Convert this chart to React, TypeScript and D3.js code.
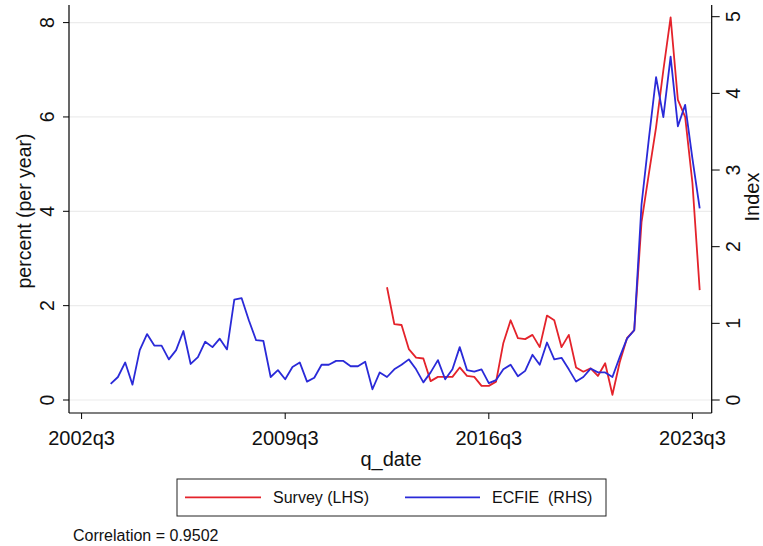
import React from "react";
import * as d3 from "d3";

// Quarter index 0 = 2002q3
const START_YEAR = 2002;
const START_QUARTER = 3;

const xTickIndex = [0, 28, 56, 84];
const xTickLabels = ["2002q3", "2009q3", "2016q3", "2023q3"];
const leftTicks = [0, 2, 4, 6, 8];
const rightTicks = [0, 1, 2, 3, 4, 5];

// ECFIE index (right axis), 2003q3 .. 2023q4
const ecfieStart = 4;
const ecfieValues = [
  0.21, 0.30, 0.49, 0.20, 0.65, 0.86, 0.71, 0.71, 0.53, 0.65,
  0.90, 0.47, 0.56, 0.76, 0.69, 0.80, 0.66, 1.31, 1.33, 1.04,
  0.78, 0.77, 0.30, 0.39, 0.27, 0.43, 0.49, 0.24, 0.29, 0.46,
  0.46, 0.51, 0.51, 0.44, 0.44, 0.50, 0.14, 0.36, 0.30, 0.40,
  0.46, 0.53, 0.40, 0.23, 0.36, 0.52, 0.27, 0.40, 0.69, 0.39,
  0.37, 0.40, 0.22, 0.26, 0.40, 0.46, 0.31, 0.38, 0.59, 0.46,
  0.75, 0.53, 0.55, 0.40, 0.24, 0.30, 0.41, 0.36, 0.36, 0.30,
  0.56, 0.80, 0.91, 2.55, 3.40, 4.21, 3.69, 4.48, 3.57, 3.85, 3.15, 2.50,
];

// Survey expectations, percent per year (left axis), 2013q1 .. 2023q4
const surveyStart = 42;
const surveyValues = [
  2.39, 1.61, 1.59, 1.08, 0.90, 0.88, 0.40, 0.49, 0.49, 0.49,
  0.69, 0.51, 0.49, 0.30, 0.30, 0.39, 1.21, 1.69, 1.31, 1.29,
  1.38, 1.12, 1.79, 1.69, 1.12, 1.38, 0.69, 0.60, 0.67, 0.51,
  0.78, 0.11, 0.80, 1.31, 1.48, 3.77, 4.79, 5.78, 6.99, 8.11, 6.36, 6.00, 4.60, 2.33,
];

const correlationText = "Correlation = 0.9502";

const W = 763;
const H = 546;
const FONT = "'Liberation Sans', Arial, Helvetica, sans-serif";
const RED = "#e4232b";
const BLUE = "#2a2ad8";

const quarterLabel = (i: number) => {
  const q0 = START_QUARTER - 1 + i;
  return `${START_YEAR + Math.floor(q0 / 4)}q${(q0 % 4) + 1}`;
};

type Pt = { i: number; label: string; v: number };

export default function App() {
  const left = 69;
  const right = 711.7;
  const top = 5;
  const bottom = 413;

  const x = d3.scaleLinear().domain([-1.73, 86.65]).range([left, right]);
  const yL = d3.scaleLinear().domain([0, 8]).range([400, 22.6]);
  const yR = d3.scaleLinear().domain([0, 5]).range([400, 16.7]);

  const ecfie: Pt[] = ecfieValues.map((v, k) => ({ i: ecfieStart + k, label: quarterLabel(ecfieStart + k), v }));
  const survey: Pt[] = surveyValues.map((v, k) => ({ i: surveyStart + k, label: quarterLabel(surveyStart + k), v }));

  const lineL = d3.line<Pt>().x((d) => x(d.i)).y((d) => yL(d.v));
  const lineR = d3.line<Pt>().x((d) => x(d.i)).y((d) => yR(d.v));

  const legend = { x0: 177, x1: 606, y0: 479, y1: 516 };
  const legendMid = 497.3;

  return (
    <div style={{ position: "absolute", left: 0, top: 0 }}>
      <svg width={W} height={H} style={{ display: "block", background: "#fff" }} fontFamily={FONT}>
        <rect width={W} height={H} fill="#fff" />

        {/* horizontal grid from left axis */}
        {leftTicks.map((t) => (
          <line key={"g" + t} x1={left} x2={right} y1={yL(t)} y2={yL(t)} stroke="#ececec" strokeWidth={1.2} />
        ))}

        {/* series */}
        <path d={lineL(survey) ?? ""} fill="none" stroke={RED} strokeWidth={1.8} strokeLinejoin="round" />
        <path d={lineR(ecfie) ?? ""} fill="none" stroke={BLUE} strokeWidth={1.8} strokeLinejoin="round" />

        {/* left axis */}
        <line x1={left} x2={left} y1={top} y2={bottom} stroke="#000" strokeWidth={1.2} />
        {leftTicks.map((t) => (
          <g key={"l" + t}>
            <line x1={left - 6} x2={left} y1={yL(t)} y2={yL(t)} stroke="#000" strokeWidth={1} />
            <text
              transform={`translate(${54},${yL(t)}) rotate(-90)`}
              textAnchor="middle"
              fontSize={19.5}
              fill="#111"
            >
              {t}
            </text>
          </g>
        ))}
        <text transform={`translate(31,211) rotate(-90)`} textAnchor="middle" fontSize={19.5} fill="#111">
          percent (per year)
        </text>

        {/* right axis */}
        <line x1={right} x2={right} y1={top} y2={bottom} stroke="#000" strokeWidth={1.2} />
        {rightTicks.map((t) => (
          <g key={"r" + t}>
            <line x1={right} x2={right + 8} y1={yR(t)} y2={yR(t)} stroke="#000" strokeWidth={1} />
            <text
              transform={`translate(${740},${yR(t)}) rotate(-90)`}
              textAnchor="middle"
              fontSize={19.5}
              fill="#111"
            >
              {t}
            </text>
          </g>
        ))}
        <text transform={`translate(759,197) rotate(-90)`} textAnchor="middle" fontSize={20} fill="#111">
          Index
        </text>

        {/* bottom axis */}
        <line x1={left} x2={right} y1={bottom} y2={bottom} stroke="#000" strokeWidth={1.2} />
        {xTickIndex.map((t, k) => (
          <g key={"x" + t}>
            <line x1={x(t)} x2={x(t)} y1={bottom} y2={bottom + 6} stroke="#000" strokeWidth={1} />
            <text x={x(t)} y={445} textAnchor="middle" fontSize={20} fill="#111">
              {xTickLabels[k]}
            </text>
          </g>
        ))}
        <text x={391} y={466} textAnchor="middle" fontSize={20} fill="#111">
          q_date
        </text>

        {/* legend */}
        <rect
          x={legend.x0}
          y={legend.y0}
          width={legend.x1 - legend.x0}
          height={legend.y1 - legend.y0}
          fill="#fff"
          stroke="#222"
          strokeWidth={1}
        />
        <line x1={185} x2={261} y1={legendMid} y2={legendMid} stroke={RED} strokeWidth={1.8} />
        <text x={273} y={legendMid + 6} fontSize={16} fill="#111">
          Survey (LHS)
        </text>
        <line x1={405} x2={480} y1={legendMid} y2={legendMid} stroke={BLUE} strokeWidth={1.8} />
        <text x={492} y={legendMid + 6} fontSize={16} fill="#111" style={{ whiteSpace: "pre" }}>
          {"ECFIE  (RHS)"}
        </text>

        <text x={73} y={541} fontSize={16} fill="#111">
          {correlationText}
        </text>
      </svg>
    </div>
  );
}
